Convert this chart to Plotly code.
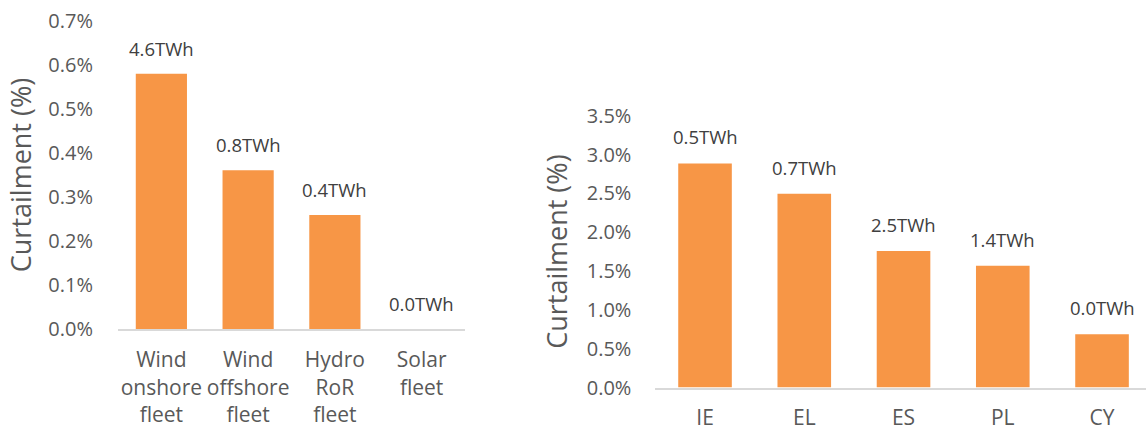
import plotly.graph_objects as go

# Left panel: technologies
tech_labels = ["Wind<br>onshore<br>fleet", "Wind<br>offshore<br>fleet", "Hydro<br>RoR<br>fleet", "Solar<br>fleet"]
tech_curtail = [0.58, 0.361, 0.259, 0.0]
tech_energy = ["4.6TWh", "0.8TWh", "0.4TWh", "0.0TWh"]

# Right panel: countries
countries = ["IE", "EL", "ES", "PL", "CY"]
country_curtail = [2.885, 2.494, 1.757, 1.568, 0.685]
country_energy = ["0.5TWh", "0.7TWh", "2.5TWh", "1.4TWh", "0.0TWh"]

W, H = 1146, 432
FONT = "Open Sans"
TXT = "#595959"
BAR = "#F79646"

fig = go.Figure()
fig.add_trace(go.Bar(x=tech_labels, y=tech_curtail, marker=dict(color=BAR, line=dict(width=0)),
                     width=0.59, xaxis="x", yaxis="y", showlegend=False, hoverinfo="skip"))
fig.add_trace(go.Bar(x=countries, y=country_curtail, marker=dict(color=BAR, line=dict(width=0)),
                     width=0.54, xaxis="x2", yaxis="y2", showlegend=False, hoverinfo="skip"))

ann = []
for xv, yv, t in zip(tech_labels, tech_curtail, tech_energy):
    ann.append(dict(x=xv, y=yv, xref="x", yref="y", text=t, showarrow=False,
                    yanchor="bottom", yshift=11, font=dict(size=18.5, color="#404040", family=FONT)))
for xv, yv, t in zip(countries, country_curtail, country_energy):
    ann.append(dict(x=xv, y=yv, xref="x2", yref="y2", text=t, showarrow=False,
                    yanchor="bottom", yshift=12, font=dict(size=18.5, color="#404040", family=FONT)))

def px_x(a, b):
    return [a / W, b / W]

def px_y(top, bottom):
    return [(H - bottom) / H, (H - top) / H]

axis_common = dict(showgrid=False, zeroline=False, ticks="", automargin=False, fixedrange=True)

fig.update_layout(
    width=W, height=H,
    margin=dict(l=0, r=0, t=0, b=0),
    paper_bgcolor="white", plot_bgcolor="white",
    font=dict(family=FONT, color=TXT),
    annotations=ann,
    xaxis=dict(domain=px_x(118, 465), range=[-0.5, 3.5], anchor="y",
               showline=True, linecolor="#D9D9D9", linewidth=2,
               tickfont=dict(size=21, color=TXT, family=FONT), ticklabelstandoff=11, **axis_common),
    yaxis=dict(domain=px_y(21, 329), range=[0, 0.7], dtick=0.1, tickformat=".1f", ticksuffix="%",
               anchor="x", showline=False, ticklabelstandoff=24,
               tickfont=dict(size=20, color=TXT, family=FONT),
               title=dict(text="Curtailment (%)", font=dict(size=27, color=TXT, family=FONT), standoff=8),
               **axis_common),
    xaxis2=dict(domain=px_x(655.4, 1146), range=[-0.5, 4.443], anchor="y2",
                showline=True, linecolor="#D9D9D9", linewidth=2,
                tickfont=dict(size=21, color=TXT, family=FONT), ticklabelstandoff=10, **axis_common),
    yaxis2=dict(domain=px_y(115.7, 387.5), range=[0, 3.5], dtick=0.5, tickformat=".1f", ticksuffix="%",
                anchor="x2", showline=False, ticklabelstandoff=23,
                tickfont=dict(size=20, color=TXT, family=FONT),
                title=dict(text="Curtailment (%)", font=dict(size=27, color=TXT, family=FONT), standoff=11),
                **axis_common),
)

fig.write_html("out.html")
